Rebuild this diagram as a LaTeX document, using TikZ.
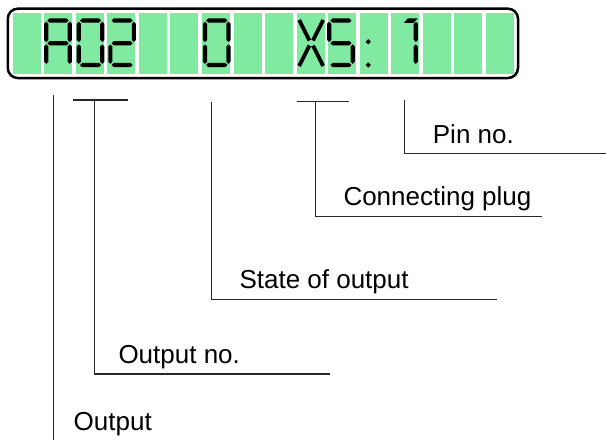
\documentclass[tikz,border=0pt]{standalone}
\usepackage{fontspec}
\setmainfont{Liberation Sans}
\definecolor{lcd}{RGB}{128,234,160}
\definecolor{leadc}{RGB}{40,40,40}
\tikzset{
  segfill/.style={fill=black},
  lcdcell/.style={fill=lcd},
  leader/.style={draw=leadc, line width=1.2pt},
  lbl/.style={anchor=base west, inner sep=0pt, font=\fontsize{26}{30}\selectfont},
}
\newcommand\hs[3]{\fill[segfill] ({#1+1.2},{#3}) -- ({#1+3.3},{#3-2.1}) -- ({#2-3.3},{#3-2.1}) -- ({#2-1.2},{#3}) -- ({#2-3.3},{#3+2.1}) -- ({#1+3.3},{#3+2.1}) -- cycle;}
\newcommand\vs[3]{\fill[segfill] ({#1},{#2+1.2}) -- ({#1+2.1},{#2+3.3}) -- ({#1+2.1},{#3-3.3}) -- ({#1},{#3-1.2}) -- ({#1-2.1},{#3-3.3}) -- ({#1-2.1},{#2+3.3}) -- cycle;}
\newcommand\dsA{\hs{\Lx}{\Rx}{20.5}}
\newcommand\dsB{\vs{\Rx}{20.5}{43.2}}
\newcommand\dsC{\vs{\Rx}{43.2}{65}}
\newcommand\dsD{\hs{\Lx}{\Rx}{65}}
\newcommand\dsE{\vs{\Lx}{43.2}{65}}
\newcommand\dsF{\vs{\Lx}{20.5}{43.2}}
\newcommand\dsG{\hs{\Lx}{\Rx}{43.2}}
\newcommand\lcddigit[3]{%
  \pgfmathsetmacro\Lx{12.7+31.55*#1+3+#2}%
  \pgfmathsetmacro\Rx{12.7+31.55*#1+26.5+#2}%
  \foreach \s in {#3}{\csname ds\s\endcsname}}
\begin{document}
\begin{tikzpicture}[x=1pt,y=-1pt]
\useasboundingbox (0,0) rectangle (606,440);
\fill[white] (0,0) rectangle (606,440);
% display cells
\foreach \i in {0,...,15}{
  \fill[lcdcell] ({12.7+31.55*\i},12.7) rectangle ({12.7+31.55*\i+28},74);
}
\draw[line width=2.5pt, rounded corners=10pt] (7.8,8.7) rectangle (518,78);
% characters
\lcddigit{1}{-1}{A,B,C,E,F,G}
\lcddigit{2}{0}{A,B,C,D,E,F}
\lcddigit{3}{0}{A,B,G,E,D}
\lcddigit{6}{0}{A,B,C,D,E,F}
% X
\draw[line width=3.8pt] (299.2,20) -- (309.4,40.5) (323.2,20) -- (313,40.5)
  (299.2,66) -- (309.4,45.5) (323.2,66) -- (313,45.5);
\lcddigit{10}{-2}{A,F,G,C,D}
% colon
\fill (368.3,39.1) -- (370.9,41.7) -- (368.3,44.3) -- (365.7,41.7) -- cycle;
\fill (368.3,62.4) -- (370.9,65) -- (368.3,67.6) -- (365.7,65) -- cycle;
% 1
\lcddigit{12}{-2}{B,C}
\fill (404,22.8) -- (407.8,18.4) -- (417.6,18.4) -- (413.5,22.8) -- cycle;
% labels
\node[lbl] (tOut) at (73.5,430.5) {Output};
\node[lbl] (tOno) at (118.3,363.3) {Output no.};
\node[lbl] (tState) at (239.3,288.3) {State of output};
\node[lbl] (tPlug) at (343.3,205) {Connecting plug};
\node[lbl] (tPin) at (432.7,143.3) {Pin no.};
% leader coordinates
\coordinate (outT) at (53.3,95);
\coordinate (outB) at (53.3,440);
\coordinate (onoL) at (73.3,100);
\coordinate (onoR) at (127.7,100);
\coordinate (onoT) at (94.7,100);
\coordinate (onoB) at (94.7,374);
\coordinate (onoE) at (330,374);
\coordinate (stT) at (211.7,101.7);
\coordinate (stB) at (211.7,299.3);
\coordinate (stE) at (496.7,299.3);
\coordinate (plL) at (296.7,101.7);
\coordinate (plR) at (349.3,101.7);
\coordinate (plT) at (315.7,101.7);
\coordinate (plB) at (315.7,216.7);
\coordinate (plE) at (541.7,216.7);
\coordinate (pnT) at (404.3,100);
\coordinate (pnB) at (404.3,153.3);
\coordinate (pnE) at (606,153.3);
% leaders
\draw[leader] (outT) -- (outB);
\draw[leader] (onoL) -- (onoR);
\draw[leader] (onoT) -- (onoB) -- (onoE);
\draw[leader] (stT) -- (stB) -- (stE);
\draw[leader] (plL) -- (plR);
\draw[leader] (plT) -- (plB) -- (plE);
\draw[leader] (pnT) -- (pnB) -- (pnE);
\end{tikzpicture}
\end{document}
